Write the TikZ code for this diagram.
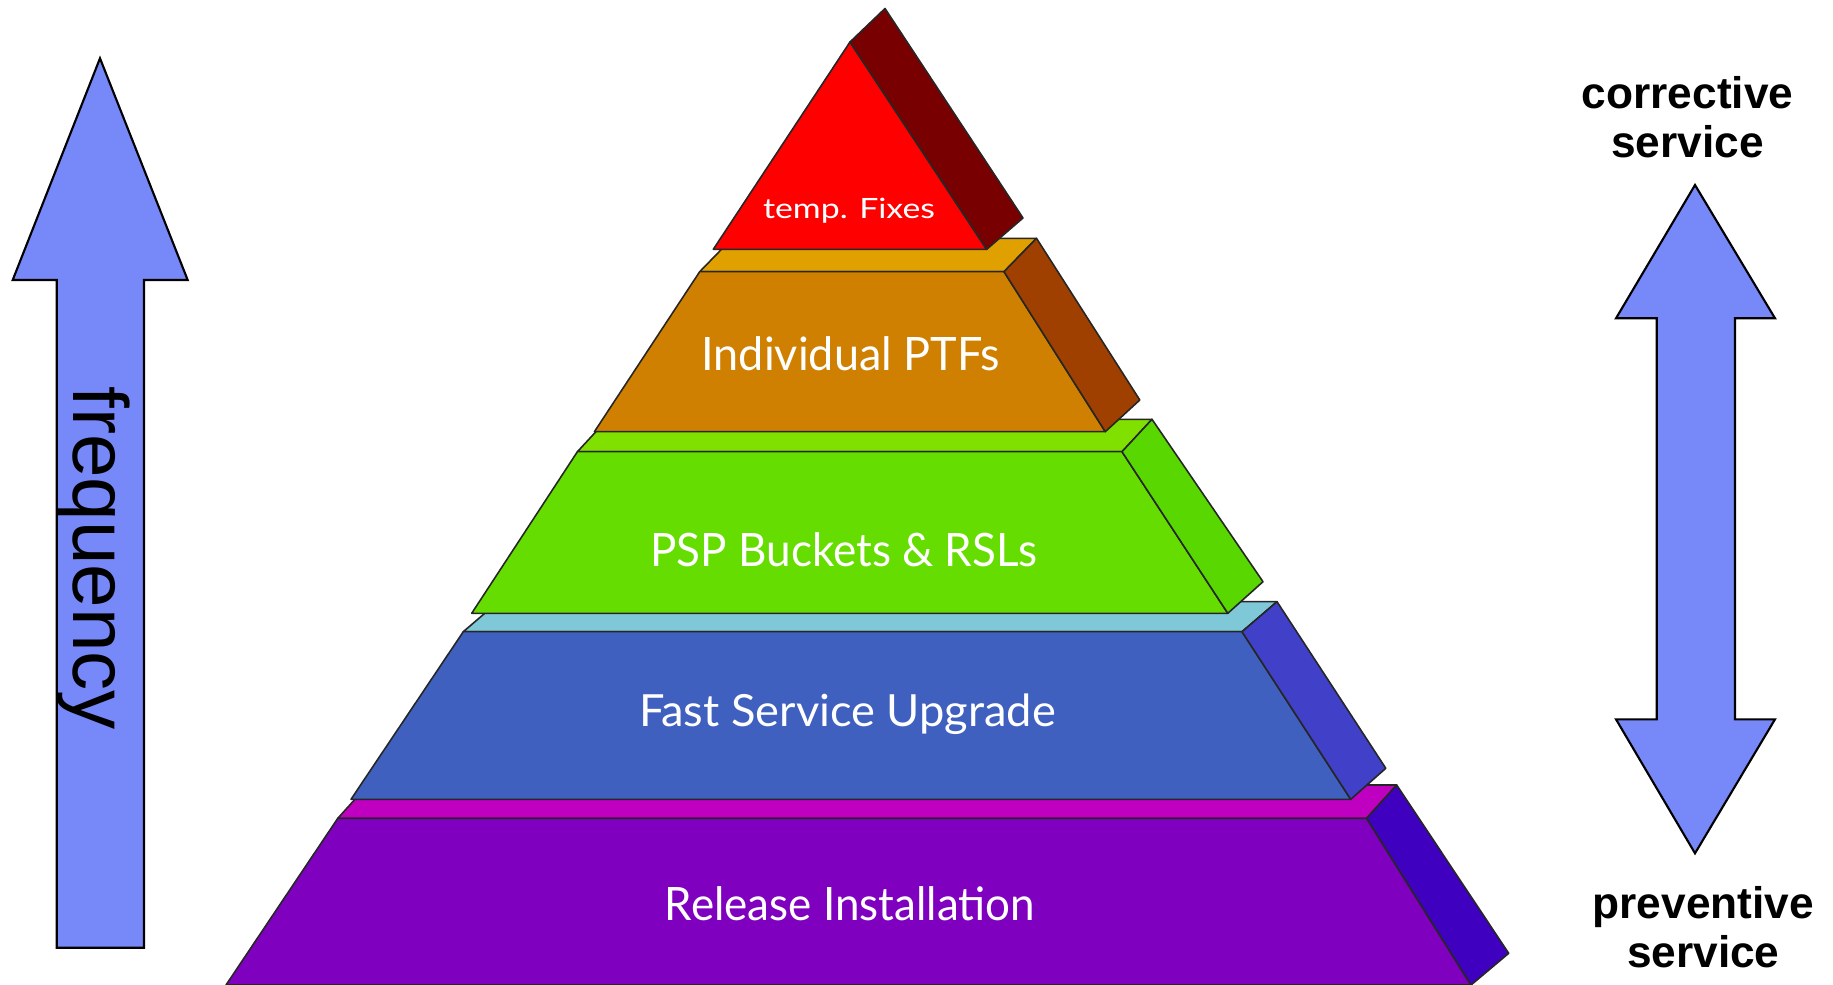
\documentclass[tikz,border=0pt]{standalone}
\usepackage{fontspec}
\setmainfont{Liberation Sans}
\newfontfamily\layerfont{Lato}
\newlength\pxu
\setlength\pxu{0.01cm}
\definecolor{arrowblue}{RGB}{119,136,248}
\definecolor{redfront}{RGB}{255,0,0}
\definecolor{redside}{RGB}{120,0,0}
\definecolor{orgtop}{RGB}{224,160,0}
\definecolor{orgfront}{RGB}{208,128,0}
\definecolor{orgside}{RGB}{160,64,0}
\definecolor{grntop}{RGB}{128,224,0}
\definecolor{grnfront}{RGB}{102,221,0}
\definecolor{grnside}{RGB}{88,216,0}
\definecolor{blutop}{RGB}{127,200,216}
\definecolor{blufront}{RGB}{64,96,192}
\definecolor{bluside}{RGB}{64,64,200}
\definecolor{purtop}{RGB}{192,0,192}
\definecolor{purfront}{RGB}{128,0,192}
\definecolor{purside}{RGB}{64,0,192}
\tikzset{
  face/.style={draw=black!85, line width=0.45pt, line join=round},
  bigarrow/.style={fill=arrowblue, draw=black, line width=0.6pt, line join=miter},
  lbl/.style={text=white, inner sep=0pt, anchor=base},
  sidelbl/.style={inner sep=0pt, anchor=base, font=\bfseries\fontsize{12.58}{11.4}\selectfont},
}
\begin{document}
\begin{tikzpicture}[x=0.01cm, y=-0.01cm]
\useasboundingbox (0,0) rectangle (1833,985);
\clip (0,0) rectangle (1833,985);

% ---------- left arrow ----------
\draw[bigarrow] (100,58.3) -- (187.7,280) -- (144,280) -- (144,947.7)
  -- (56.7,947.7) -- (56.7,280) -- (12.7,280) -- cycle;
\node[rotate=-90, anchor=base, inner sep=0pt, font=\fontsize{22.25}{26}\selectfont]
  (freq) at (74,558.3) {frequency};

% ---------- right double arrow ----------
\draw[bigarrow] (1695,185) -- (1775,318.3) -- (1735,318.3) -- (1735,719.3)
  -- (1775,719.3) -- (1695,853.3) -- (1616,719.3) -- (1656.7,719.3)
  -- (1656.7,318.3) -- (1616,318.3) -- cycle;
\node[sidelbl] (corr1) at (1687.5,108.5) {corrective};
\node[sidelbl] (corr2) at (1687.5,158) {service};
\node[sidelbl] (prev1) at (1703.3,918.3) {preventive};
\node[sidelbl] (prev2) at (1703.3,967) {service};

% ---------- purple layer ----------
\fill[purtop, face] (337.8,818.3) -- (1366.6,818.3) -- (1396.7,785) -- (367.8,785) -- cycle;
\fill[purfront, face] (337.8,818.3) -- (1366.6,818.3) -- (1471,985) -- (226,985) -- cycle;
\fill[purside, face] (1366.6,818.3) -- (1396.7,785) -- (1508.7,953.3) -- (1471,985) -- cycle;

% ---------- blue layer ----------
\fill[blutop, face] (463.3,631.7) -- (1242,631.7) -- (1277,601.7) -- (498.3,601.7) -- cycle;
\fill[blufront, face] (463.3,631.7) -- (1242,631.7) -- (1350.7,799.3) -- (351,799.3) -- cycle;
\fill[bluside, face] (1242,631.7) -- (1277,601.7) -- (1385.8,768.3) -- (1350.7,799.3) -- cycle;

% ---------- green layer ----------
\fill[grntop, face] (577.4,451.7) -- (1122,451.7) -- (1152,419.3) -- (607.4,419.3) -- cycle;
\fill[grnfront, face] (577.4,451.7) -- (1122,451.7) -- (1227.8,613.3) -- (471.7,613.3) -- cycle;
\fill[grnside, face] (1122,451.7) -- (1152,419.3) -- (1263,581.7) -- (1227.8,613.3) -- cycle;

% ---------- orange layer ----------
\fill[orgtop, face] (699.7,271.7) -- (1004,271.7) -- (1036.5,238.3) -- (732.2,238.3) -- cycle;
\fill[orgfront, face] (699.7,271.7) -- (1004,271.7) -- (1105.3,431.7) -- (594.4,431.7) -- cycle;
\fill[orgside, face] (1004,271.7) -- (1036.5,238.3) -- (1139.8,400) -- (1105.3,431.7) -- cycle;

% ---------- red top ----------
\fill[redfront, face] (850,42) -- (986.7,249.3) -- (713.3,249.3) -- cycle;
\fill[redside, face] (850,42) -- (885,8.5) -- (1023,218) -- (986.7,249.3) -- cycle;

% ---------- layer labels ----------
\node[lbl, font=\layerfont\fontsize{7.95}{9}\selectfont] (tfix) at (849,218.3)
  {\resizebox{172\pxu}{\height}{temp. Fixes}};
\node[lbl, font=\layerfont\fontsize{13.1}{15}\selectfont] (ptf) at (850.8,370)
  {\resizebox{298.5\pxu}{\height}{Individual PTFs}};
\node[lbl, font=\layerfont\fontsize{13.1}{15}\selectfont] (psp) at (844,566.7)
  {\resizebox{387.5\pxu}{\height}{PSP Buckets \& RSLs}};
\node[lbl, font=\layerfont\fontsize{12.6}{15}\selectfont] (fsu) at (847.5,726.7)
  {\resizebox{417\pxu}{\height}{Fast Service Upgrade}};
\node[lbl, font=\layerfont\fontsize{13.1}{15}\selectfont] (rel) at (850,920)
  {\resizebox{370\pxu}{\height}{Release Installation}};
\end{tikzpicture}
\end{document}
